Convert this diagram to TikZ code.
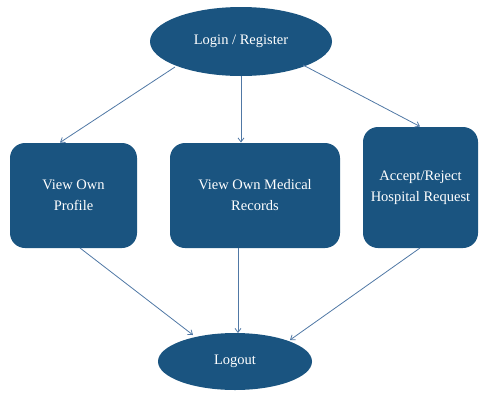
\documentclass[tikz,border=0pt]{standalone}
\usepackage{fontspec}
\setmainfont{Liberation Serif}
\usetikzlibrary{shapes.geometric,arrows.meta}
\definecolor{nodeblue}{RGB}{26,84,128}
\definecolor{linkblue}{RGB}{80,120,165}
\begin{document}
\begin{tikzpicture}[x=1pt,y=-1pt,
  ell/.style={ellipse,fill=nodeblue,text=white,inner sep=0pt,font=\fontsize{14.5}{17}\selectfont},
  rbox/.style={rectangle,rounded corners=15pt,fill=nodeblue,text=white,inner sep=0pt,align=center,font=\fontsize{14.5}{21}\selectfont},
  link/.style={draw=linkblue,line width=0.8pt,-{Straight Barb[length=4pt,width=6pt]}}]
\useasboundingbox (0,0) rectangle (480,392);
\node[ell,minimum width=182pt,minimum height=69pt] (login) at (241,41.5) {Login / Register};
\node[rbox,minimum width=127pt,minimum height=105pt] (profile) at (73.5,195.5) {View Own\\Profile};
\node[rbox,minimum width=170pt,minimum height=105pt] (records) at (255,195.5) {View Own Medical\\Records};
\node[rbox,minimum width=115pt,minimum height=121pt] (accept) at (420.5,187.5) {Accept/Reject\\Hospital Request};
\node[ell,minimum width=154pt,minimum height=57pt] (logout) at (235,361.5) {Logout};
\coordinate (l1) at (175,67);
\coordinate (l2) at (241,76);
\coordinate (l3) at (303,65);
\draw[link] (l1) -- (60,142.5);
\draw[link] (l2) -- (241,142.5);
\draw[link] (l3) -- (420,126.5);
\draw[link] (80,248) -- (193,335);
\draw[link] (238,248) -- (238,333);
\draw[link] (420,248) -- (290,340);
\end{tikzpicture}
\end{document}
